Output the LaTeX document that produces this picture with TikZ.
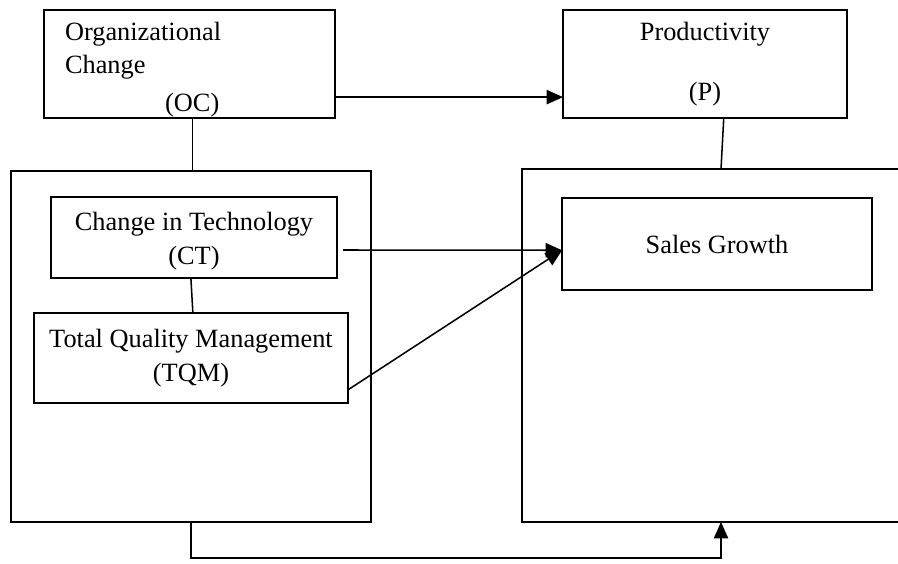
\documentclass[tikz,border=0pt]{standalone}
\usepackage{fontspec}
\setmainfont{Liberation Serif}
\usetikzlibrary{arrows.meta}
\tikzset{
  >={Triangle[length=7.5pt,width=6.5pt]},
  box/.style = {draw, rectangle, line width=0.9pt, inner sep=0pt,
                outer sep=0pt, align=center},
  group/.style = {draw, rectangle, line width=0.6pt, inner sep=0pt,
                  outer sep=0pt},
  link/.style = {line width=0.7pt},
}

\begin{document}
\begin{tikzpicture}[x=0.016cm, y=-0.016cm, font=\fontsize{12}{15.2}\selectfont]
\useasboundingbox (0,0) rectangle (898,563);
% the two groups
\node[group, minimum width=5.76cm, minimum height=5.616cm] (left) at (191,346.5) {};
\node[group, minimum width=6.128cm, minimum height=5.648cm] (right) at (713.5,345.5) {};
% top boxes
\node[box, minimum width=4.656cm, minimum height=1.728cm, text width=3.984cm,
      inner xsep=0.336cm, align=left] (OC) at (189.5,64)
      {\rule{0pt}{13.5pt}Organizational\\Change\\[2pt]\hspace*{3.8em}(OC)};
\node[box, minimum width=4.544cm, minimum height=1.728cm] (P) at (705,64)
      {Productivity\\[12pt](P)};
% inner boxes
\node[box, minimum width=4.576cm, minimum height=1.296cm] (CT) at (194,237.5)
      {\rule{0pt}{11.8pt}Change in Technology\\(CT)};
\node[box, minimum width=5.024cm, minimum height=1.44cm] (TQM) at (191,358)
      {Total Quality Management\\(TQM)};
\node[box, minimum width=4.96cm, minimum height=1.472cm] (SG) at (717,244)
      {Sales Growth};

% connectors
\draw[link] ([xshift=0.05cm]OC.south) -- ([xshift=0.05cm]OC.south |- left.north);
\draw[link] ([xshift=0.3cm]P.south) -- ([xshift=0.12cm]right.north);
\draw[link] ([xshift=-0.05cm]CT.south) -- ([xshift=0.03cm]TQM.north);
\draw[link,->] ([yshift=-0.53cm]OC.east) -- ([yshift=-0.53cm]P.west);
\draw[link,->] ([xshift=0.1cm,yshift=-0.2cm]CT.east) -- ([yshift=-0.1cm]SG.west);
\draw[link,->] ([yshift=-0.51cm]TQM.east) -- ([yshift=-0.1cm]SG.west);
\draw[link,->] (left.south) -- ++(0,36) -| ([xshift=0.12cm]right.south);
\end{tikzpicture}
\end{document}
